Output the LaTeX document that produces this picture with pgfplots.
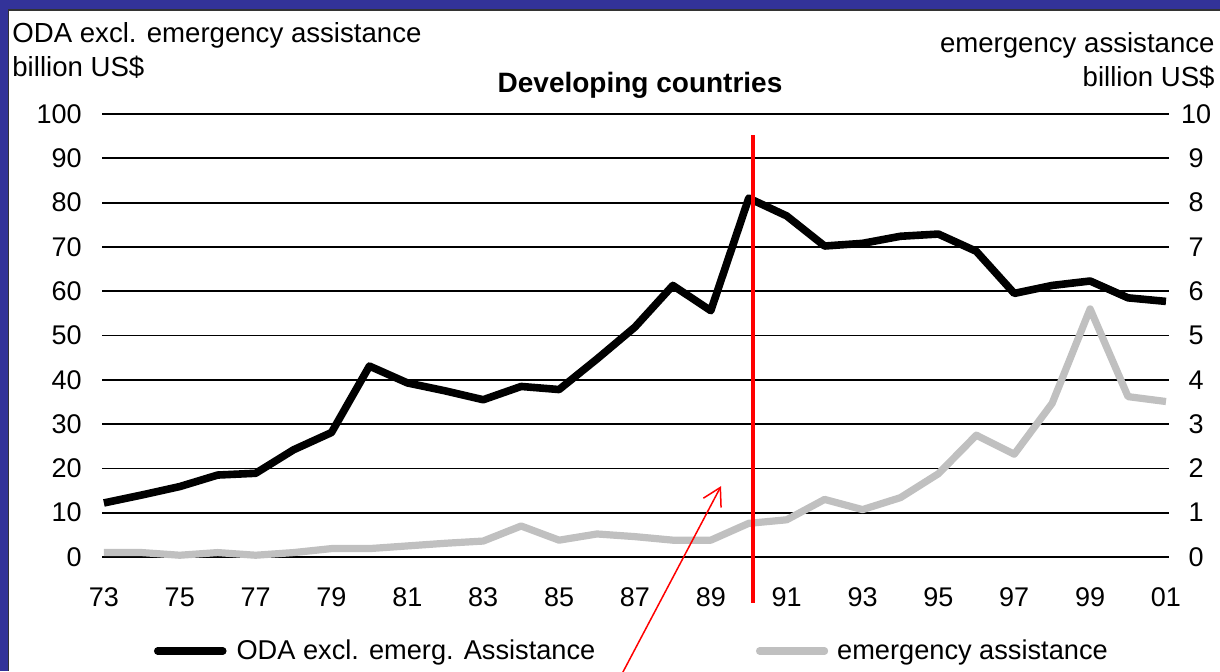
\documentclass[border=0pt]{standalone}
\usepackage{fontspec}
\setmainfont{Liberation Sans}
\usepackage{pgfplots}
\pgfplotsset{compat=1.18}
\usetikzlibrary{arrows.meta}
\definecolor{frameblue}{HTML}{333399}
\definecolor{emgray}{HTML}{C0C0C0}

\pgfplotstableread{
year oda
73 12.2
74 14.0
75 15.9
76 18.5
77 18.9
78 24.2
79 28.1
80 43.1
81 39.3
82 37.5
83 35.5
84 38.5
85 37.8
86 44.7
87 51.9
88 61.3
89 55.6
90 81.0
91 77.0
92 70.2
93 70.8
94 72.4
95 72.9
96 69.0
97 59.5
98 61.3
99 62.3
100 58.5
101 57.7
}\odadata

\pgfplotstableread{
year em
73 0.10
74 0.10
75 0.04
76 0.10
77 0.04
78 0.10
79 0.19
80 0.19
81 0.25
82 0.31
83 0.36
84 0.70
85 0.38
86 0.52
87 0.46
88 0.38
89 0.38
90 0.76
91 0.84
92 1.30
93 1.07
94 1.34
95 1.88
96 2.75
97 2.32
98 3.47
99 5.60
100 3.62
101 3.51
}\emdata

\begin{document}
\begin{tikzpicture}
\useasboundingbox (0,0) rectangle (610pt,335.5pt);
\fill[frameblue] (0,0) rectangle (610pt,335.5pt);
\fill[white] (4.3pt,0) rectangle (610pt,330.5pt);
\draw[black!80, line width=0.6pt] (4.3pt,0) -- (4.3pt,330.5pt) -- (610pt,330.5pt);

\node[anchor=base west, inner sep=0pt, font=\fontsize{13.8}{16}\selectfont] at (6pt,314pt) {ODA excl. emergency assistance};
\node[anchor=base west, inner sep=0pt, font=\fontsize{13.8}{16}\selectfont] at (6pt,297pt) {billion US\$};
\node[anchor=base east, inner sep=0pt, font=\fontsize{13.8}{16}\selectfont] at (607.5pt,309pt) {emergency assistance};
\node[anchor=base east, inner sep=0pt, font=\fontsize{13.8}{16}\selectfont] at (607.5pt,292pt) {billion US\$};
\node[anchor=base, inner sep=0pt, font=\fontsize{14}{16}\selectfont\bfseries] at (320pt,289pt) {Developing countries};

\begin{axis}[
  at={(51pt,57pt)}, anchor=south west,
  scale only axis, width=533.5pt, height=221.5pt,
  xmin=72.95, xmax=101.08, ymin=0, ymax=100,
  xtick={73,75,...,101},
  xticklabels={73,75,77,79,81,83,85,87,89,91,93,95,97,99,01},
  ytick={0,10,...,100},
  axis line style={draw=none},
  major tick length=0pt,
  ymajorgrids,
  grid style={black, line width=0.9pt},
  /pgf/number format/assume math mode=true,
  ticklabel style={font=\fontsize{13.5}{16}\selectfont},
  yticklabel style={anchor=east, inner sep=0pt, xshift=-10pt},
  xticklabel style={anchor=center, inner sep=0pt, yshift=-20pt},
  clip=false,
  legend image code/.code={\draw[#1, line cap=round] (0pt,0pt) -- (32.5pt,0pt);},
  legend style={at={(0.0487,-0.2122)}, anchor=west, draw=none, fill=none,
    inner sep=0pt, outer sep=0pt, font=\fontsize{13.6}{16}\selectfont,
    nodes={inner sep=0pt},
    /tikz/every odd column/.append style={column sep=5pt}},
]
\addplot[black, line width=3.8pt, line join=round] table[x=year, y=oda] {\odadata};
\addlegendentry{ODA excl. emerg. Assistance}
\end{axis}

\begin{axis}[
  at={(51pt,57pt)}, anchor=south west,
  scale only axis, width=533.5pt, height=221.5pt,
  xmin=72.95, xmax=101.08, ymin=0, ymax=10,
  hide x axis,
  axis y line*=right,
  ytick={0,1,...,10},
  axis line style={draw=none},
  major tick length=0pt,
  /pgf/number format/assume math mode=true,
  ticklabel style={font=\fontsize{13.5}{16}\selectfont},
  yticklabel style={anchor=center, inner sep=0pt, xshift=13.5pt},
  clip=false,
  legend image code/.code={\draw[#1, line cap=round] (0pt,0pt) -- (32.5pt,0pt);},
  legend style={at={(0.6129,-0.2122)}, anchor=west, draw=none, fill=none,
    inner sep=0pt, outer sep=0pt, font=\fontsize{13.6}{16}\selectfont,
    nodes={inner sep=0pt},
    /tikz/every odd column/.append style={column sep=4.5pt}},
]
\addplot[emgray, line width=3.6pt, line join=round] table[x=year, y=em] {\emdata};
\addlegendentry{emergency assistance}
\draw[red, line width=2pt] (axis cs:90.1,-1.03) -- (axis cs:90.1,9.53);
\draw[red, line width=0.75pt, -{Straight Barb[length=8.7pt, width=10pt]}] (axis cs:86.62,-2.7) -- (axis cs:89.27,1.6);
\end{axis}
\end{tikzpicture}
\end{document}
